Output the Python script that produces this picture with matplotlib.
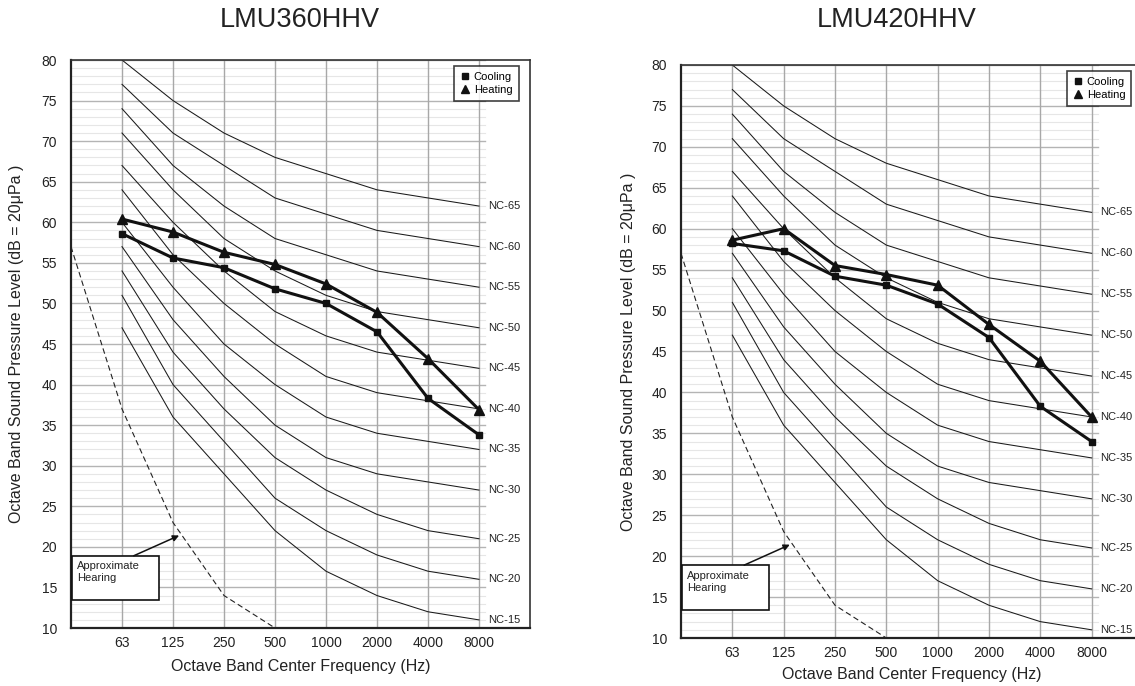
import numpy as np
import matplotlib
matplotlib.use("Agg")
import matplotlib.pyplot as plt
from matplotlib.lines import Line2D

plt.rcParams['font.family'] = ['Liberation Sans', 'DejaVu Sans']

# ---------------- data ----------------
freqs = ['63', '125', '250', '500', '1000', '2000', '4000', '8000']
nc_names = ['NC-15', 'NC-20', 'NC-25', 'NC-30', 'NC-35', 'NC-40',
            'NC-45', 'NC-50', 'NC-55', 'NC-60', 'NC-65']
nc_15 = [47, 36, 29, 22, 17, 14, 12, 11]
nc_20 = [51, 40, 33, 26, 22, 19, 17, 16]
nc_25 = [54, 44, 37, 31, 27, 24, 22, 21]
nc_30 = [57, 48, 41, 35, 31, 29, 28, 27]
nc_35 = [60, 52, 45, 40, 36, 34, 33, 32]
nc_40 = [64, 56, 50, 45, 41, 39, 38, 37]
nc_45 = [67, 60, 54, 49, 46, 44, 43, 42]
nc_50 = [71, 64, 58, 54, 51, 49, 48, 47]
nc_55 = [74, 67, 62, 58, 56, 54, 53, 52]
nc_60 = [77, 71, 67, 63, 61, 59, 58, 57]
nc_65 = [80, 75, 71, 68, 66, 64, 63, 62]
nc_curves = [nc_15, nc_20, nc_25, nc_30, nc_35, nc_40, nc_45, nc_50, nc_55, nc_60, nc_65]

# approximate hearing threshold: value at the left edge, then 63..500 Hz
hearing = [57, 37, 23, 14, 10]

titles = ['LMU360HHV', 'LMU420HHV']
cooling_360 = [58.6, 55.6, 54.4, 51.8, 50.0, 46.5, 38.3, 33.8]
heating_360 = [60.4, 58.8, 56.3, 54.8, 52.4, 48.9, 43.2, 36.9]
cooling_420 = [58.2, 57.3, 54.2, 53.1, 50.8, 46.7, 38.3, 34.0]
heating_420 = [58.6, 60.0, 55.5, 54.4, 53.1, 48.3, 43.8, 37.0]

y_ticks = list(range(10, 81, 5))
xlabel = 'Octave Band Center Frequency (Hz)'
ylabel = 'Octave Band Sound Pressure Level (dB = 20μPa )'

# ---------------- figure ----------------
W, H = 1135, 686
fig = plt.figure(figsize=(W / 100, H / 100), dpi=100)


def frac_rect(l, t, r, b):
    return [l / W, 1 - b / H, (r - l) / W, (b - t) / H]


ax_rects = [frac_rect(71, 60, 530, 628), frac_rect(681, 65, 1143, 638)]
title_pos = [(300, 20), (897, 20)]
ylabel_x = [17, 628]
xlabel_y = [667, 675]
datasets = [(cooling_360, heating_360), (cooling_420, heating_420)]

xpos = np.arange(1, len(freqs) + 1)
hx = np.arange(len(hearing))

for i in range(2):
    ax = fig.add_axes(ax_rects[i])
    ax.set_xlim(0, 9)
    ax.set_ylim(10, 80)

    # grid
    for yv in range(10, 81):
        if yv % 5 == 0:
            ax.plot([0, 8.12], [yv, yv], color='#b4b4b4', lw=1.0, zorder=1)
        else:
            ax.plot([0, 8.12], [yv, yv], color='#e6e6e6', lw=0.8, zorder=0.5)
    for xv in xpos:
        ax.axvline(xv, color='#a8a8a8', lw=1.0, zorder=1)

    # NC curves
    for name, vals in zip(nc_names, nc_curves):
        ax.plot(xpos, vals, color='#1a1a1a', lw=0.75, zorder=2)
        ax.text(xpos[-1] + 0.17, vals[-1], name, fontsize=8, va='center',
                ha='left', color='#222222', zorder=3)

    # hearing threshold
    ax.plot(hx, hearing, color='#222222', lw=0.8, ls=(0, (5, 3)), zorder=2)

    # approximate hearing box + arrow
    ax.add_patch(plt.Rectangle((0.02, 13.4), 1.70, 5.5, fill=True,
                               facecolor='white', edgecolor='#111111', lw=1.2,
                               zorder=4))
    ax.text(0.12, 18.2, 'Approximate\nHearing', fontsize=8, va='top',
            ha='left', color='#222222', zorder=5, linespacing=1.25)
    ax.annotate('', xy=(2.12, 21.4), xytext=(1.23, 18.9),
                arrowprops=dict(arrowstyle='-|>', color='#111111', lw=1.1,
                                mutation_scale=9, shrinkA=0, shrinkB=0),
                zorder=5)

    cool, heat = datasets[i]
    ax.plot(xpos, cool, color='#111111', lw=2.2, marker='s', ms=5,
            zorder=6, clip_on=False)
    ax.plot(xpos, heat, color='#111111', lw=2.2, marker='^', ms=6.5,
            zorder=6, clip_on=False)

    handles = [Line2D([], [], color='#111111', marker='s', ls='none', ms=4),
               Line2D([], [], color='#111111', marker='^', ls='none', ms=6)]
    leg = ax.legend(handles, ['Cooling', 'Heating'], loc='upper right',
                    bbox_to_anchor=(0.975, 0.99), fontsize=8, frameon=True,
                    fancybox=False, handlelength=0.8, handletextpad=0.4,
                    borderpad=0.55, labelspacing=0.3, borderaxespad=0)
    leg.get_frame().set_edgecolor('#111111')
    leg.get_frame().set_linewidth(1.2)
    leg.set_zorder(7)

    ax.set_xticks(xpos)
    ax.set_xticklabels(freqs)
    ax.set_yticks(y_ticks)
    ax.tick_params(axis='both', length=0, labelsize=10, colors='#222222')
    ax.tick_params(axis='y', pad=10)
    ax.tick_params(axis='x', pad=6)

    for s in ['left', 'bottom']:
        ax.spines[s].set_linewidth(1.6)
        ax.spines[s].set_color('#222222')
    for s in ['top', 'right']:
        ax.spines[s].set_linewidth(1.2)
        ax.spines[s].set_color('#333333')

    fig.text(title_pos[i][0] / W, 1 - title_pos[i][1] / H, titles[i],
             fontsize=19.5, ha='center', va='center', color='#222222')

    ax.set_xlabel(xlabel, fontsize=11.5, color='#222222')
    ax.xaxis.label.set_va('center')
    ax_h = ax_rects[i][3] * H
    ax_bottom_px = (1 - ax_rects[i][1]) * H
    ax.xaxis.set_label_coords(0.5, -(xlabel_y[i] - ax_bottom_px) / ax_h)

    ax.set_ylabel(ylabel, fontsize=11.5, color='#222222')
    ax.yaxis.label.set_va('center')
    ax.yaxis.set_label_coords((ylabel_x[i] - ax_rects[i][0] * W) /
                              (ax_rects[i][2] * W), 0.5)

fig.savefig('out.png', dpi=100)
